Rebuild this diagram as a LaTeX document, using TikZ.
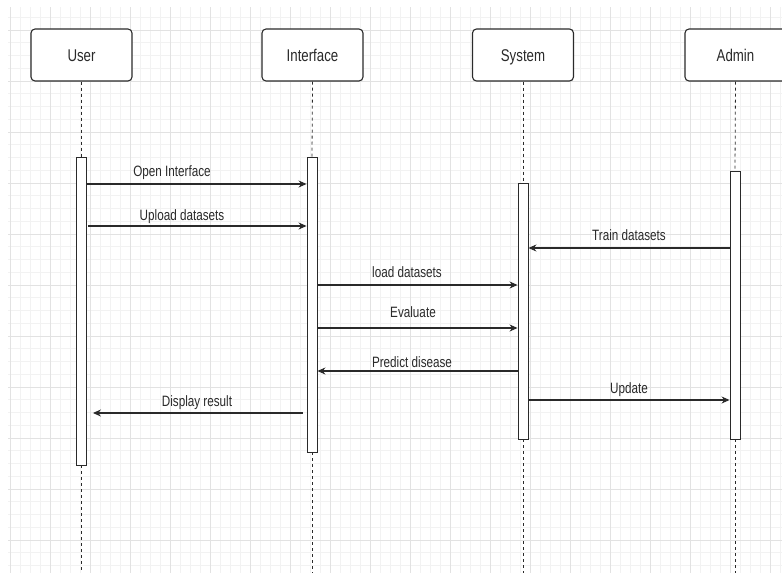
\documentclass[tikz,border=0pt]{standalone}
\usepackage{fontspec}
\setmainfont{Liberation Sans}[FakeStretch=0.78]
\usetikzlibrary{arrows.meta}
\definecolor{gridmaj}{HTML}{E2E2E2}
\definecolor{gridmin}{HTML}{F2F2F2}
\definecolor{ink}{HTML}{2A2A2A}
\definecolor{txt}{HTML}{2A2A2A}
\tikzset{
  actor/.style={draw=ink, line width=1.1pt, rounded corners=4pt, fill=white,
    minimum width=101pt, minimum height=52pt, inner sep=0pt, text=txt,
    text height=12.5pt, text depth=0pt,
    font=\fontsize{17}{20}\selectfont},
  actbar/.style={draw=ink, line width=0.9pt, fill=white, minimum width=10pt, inner sep=0pt},
  life/.style={draw=ink, line width=0.8pt, dash pattern=on 3pt off 3pt},
  msg/.style={draw=ink, line width=1.1pt, -{Stealth[length=8pt,width=7pt]}},
  lbl/.style={text=txt, inner sep=0pt, text height=11pt, text depth=3pt,
    font=\fontsize{15}{18}\selectfont},
  gmin/.style={draw=gridmin, line width=0.6pt},
  gmaj/.style={draw=gridmaj, line width=0.9pt}
}
\begin{document}
\begin{tikzpicture}[x=1pt, y=-1pt]
\clip (0,0) rectangle (782,573);
\fill[white] (0,0) rectangle (782,573);
% grid
\foreach \x in {10,20,...,780} \draw[gmin] (\x,7) -- (\x,573);
\foreach \k in {-1,...,43} \draw[gmin] (8,{30+12.75*\k}) -- (782,{30+12.75*\k});
\foreach \x in {10,50,...,770} \draw[gmaj] (\x,7) -- (\x,573);
\foreach \k in {0,...,10} \draw[gmaj] (8,{30+51*\k}) -- (782,{30+51*\k});

% actors
\node[actor] (user) at (81.5,55) {User};
\node[actor] (iface) at (312.5,55) {Interface};
\node[actor] (sys) at (523,55) {System};
\node[actor] (admin) at (735.5,55) {Admin};

% activation bars
\node[actbar, minimum height=308pt] (ubar) at (81.5,311) {};
\node[actbar, minimum height=295pt] (ibar) at (312,304.5) {};
\node[actbar, minimum height=256pt] (sbar) at (523,311) {};
\node[actbar, minimum height=268pt] (abar) at (735,305) {};

% bottom ends of lifelines
\coordinate (uend) at (81.5,573);
\coordinate (iend) at (312,573);
\coordinate (send) at (523,573);
\coordinate (aend) at (735,573);

% lifelines
\draw[life] (user.south) -- (ubar.north);
\draw[life] (ubar.south) -- (uend);
\draw[life] (iface.south) -- (ibar.north);
\draw[life] (ibar.south) -- (iend);
\draw[life] (sys.south) -- (sbar.north);
\draw[life] (sbar.south) -- (send);
\draw[life] (admin.south) -- (abar.north);
\draw[life] (abar.south) -- (aend);

% messages
\draw[msg] (ubar.east |- 0,184) -- (ibar.west |- 0,184);
\draw[msg] ([xshift=1pt]ubar.east |- 0,226) -- (ibar.west |- 0,226);
\draw[msg] (ibar.east |- 0,285) -- (sbar.west |- 0,285);
\draw[msg] (ibar.east |- 0,328) -- (sbar.west |- 0,328);
\draw[msg] (sbar.west |- 0,371) -- (ibar.east |- 0,371);
\draw[msg] ([xshift=-4pt]ibar.west |- 0,413) -- ([xshift=6pt]ubar.east |- 0,413);
\draw[msg] (abar.west |- 0,248) -- (sbar.east |- 0,248);
\draw[msg] (sbar.east |- 0,400) -- (abar.west |- 0,400);

% labels
\node[lbl] (l1) at (172,172) {Open Interface};
\node[lbl] (l2) at (182,216) {Upload datasets};
\node[lbl] (l3) at (407,273) {load datasets};
\node[lbl] (l4) at (413,313) {Evaluate};
\node[lbl] (l5) at (412,363) {Predict disease};
\node[lbl] (l6) at (197,402) {Display result};
\node[lbl] (l7) at (629,236) {Train datasets};
\node[lbl] (l8) at (629,389) {Update};
\end{tikzpicture}
\end{document}
